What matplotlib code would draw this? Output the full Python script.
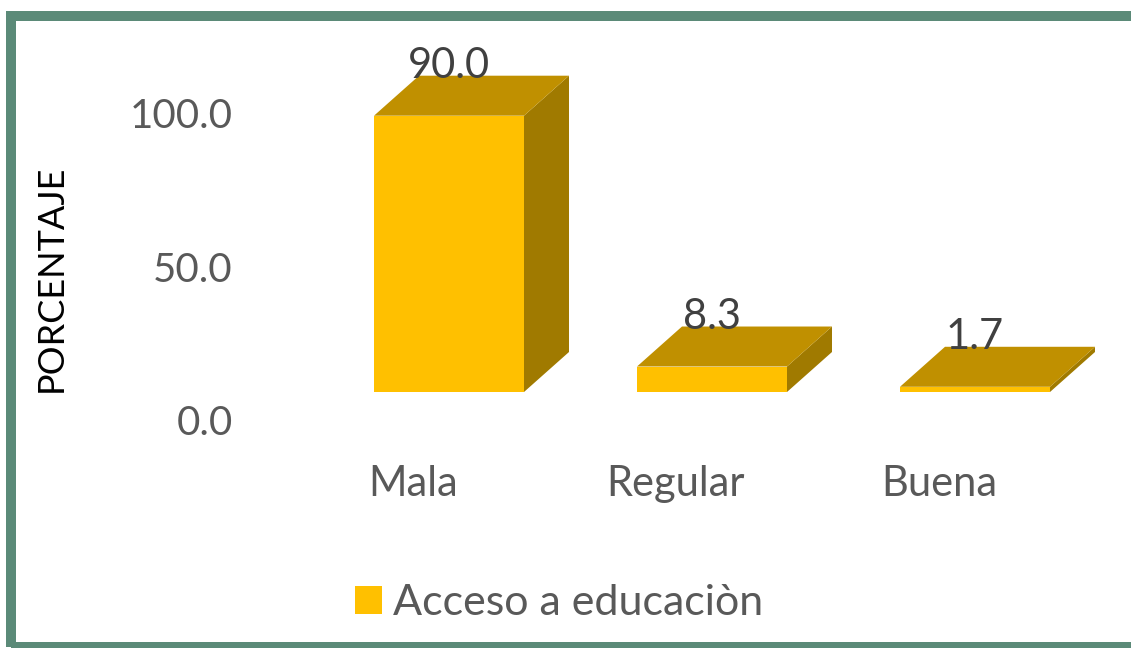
"""
Acceso a educación - barras con efecto 3D estilo Excel
"""
import matplotlib
matplotlib.use("Agg")
import matplotlib.pyplot as plt
from matplotlib.patches import Polygon, Rectangle, Patch

# datos
categories = ["Mala", "Regular", "Buena"]
values = [90.0, 8.3, 1.7]
yticks = [0.0, 50.0, 100.0]
series_name = "Acceso a educaciòn"
ylabel = "PORCENTAJE"

# colores
c_front = "#FFC000"
c_top = "#C09000"
c_side = "#A07A00"
c_text = "#595959"
c_border = "#5B8A78"

plt.rcParams["font.family"] = ["Lato", "DejaVu Sans"]

W, H = 1131, 648
fig = plt.figure(figsize=(W / 100, H / 100), dpi=100)

# ejes: escala de pixeles -> datos
x0_px = 449.0      # centro de la primera barra
step_px = 263.0    # distancia entre categorias
zero_px = 420.0    # y (desde arriba) del valor 0
ppu = 3.07         # pixeles por unidad
left_px = 245.0

ax = fig.add_axes([left_px / W, 0, 1 - left_px / W, 1])
ax.set_xlim((left_px - x0_px) / step_px, (W - x0_px) / step_px)
ax.set_ylim(-(H - zero_px) / ppu, zero_px / ppu)
for s in ax.spines.values():
    s.set_visible(False)
ax.set_xticks([])
ax.set_yticks(yticks)
ax.set_yticklabels([f"{t:.1f}" for t in yticks])
ax.tick_params(axis="y", length=0, pad=9, labelsize=29, labelcolor=c_text)

width = 150 / step_px
base = (zero_px - 392) / ppu   # suelo del 3D
dx = 45 / step_px
dy = 40 / ppu

for i, (cat, v) in enumerate(zip(categories, values)):
    xl = i - width / 2
    xr = i + width / 2
    yb = base
    yt = base + v
    # cara frontal
    ax.add_patch(Polygon([(xl, yb), (xr, yb), (xr, yt), (xl, yt)],
                         closed=True, fc=c_front, ec="none"))
    # cara lateral
    ax.add_patch(Polygon([(xr, yb), (xr + dx, yb + dy), (xr + dx, yt + dy), (xr, yt)],
                         closed=True, fc=c_side, ec="none"))
    # cara superior
    ax.add_patch(Polygon([(xl, yt), (xr, yt), (xr + dx, yt + dy), (xl + dx, yt + dy)],
                         closed=True, fc=c_top, ec="none"))
    # etiqueta del valor
    ax.text(i, yt + dy - 0.8, f"{v:.1f}", ha="center", va="baseline",
            fontsize=30, color="#404040")
    # etiqueta de categoria
    ax.text(i - 0.137, -(484 - zero_px) / ppu, cat, ha="center", va="center",
            fontsize=30, color=c_text)

# titulo del eje y
fig.text(51 / W, (H - 278) / H, ylabel, rotation=90, ha="center", va="center",
         fontsize=26, color="black")

# leyenda
fig.legend(handles=[Patch(fc=c_front, ec="none", label=series_name)],
           loc="center left", bbox_to_anchor=(355 / W, (H - 603) / H),
           frameon=False, fontsize=31, labelcolor=c_text,
           handlelength=0.63, handleheight=0.63, handletextpad=0.25,
           borderpad=0, borderaxespad=0)

# marco
fig.add_artist(Rectangle((11 / W, 1.5 / H), (1160 - 11) / W, (646.5 - 15.5) / H,
                         transform=fig.transFigure, fill=False,
                         ec=c_border, lw=7.2))

fig.savefig("out.png", dpi=100)
